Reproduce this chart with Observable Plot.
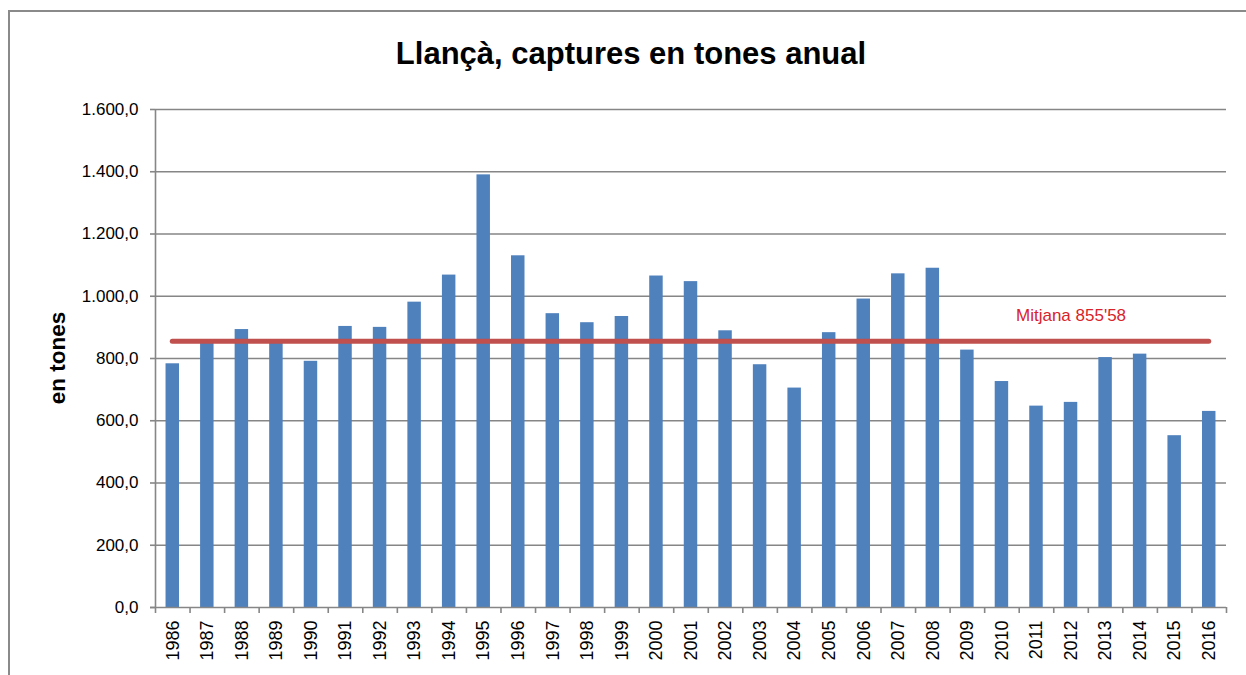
<!DOCTYPE html>
<html>
<head>
<meta charset="utf-8">
<script src="https://cdn.jsdelivr.net/npm/d3@7"></script>
<script src="https://cdn.jsdelivr.net/npm/@observablehq/plot@0.6"></script>
<style>
  html, body { margin: 0; padding: 0; background: #fff; overflow: hidden; }
  #wrap { position: relative; width: 1246px; height: 675px; overflow: hidden; font-family: "Liberation Sans", Arial, sans-serif; }
  #frame { position: absolute; left: 8px; top: 10px; width: 1400px; height: 800px; border: 2px solid #8a8a8a; box-sizing: border-box; }
  #title { position: absolute; left: 631px; top: 38px; transform: translateX(-50%); font-size: 31px; font-weight: bold; line-height: 1; white-space: nowrap; color: #000; }
  #ylabel { position: absolute; left: 58px; top: 358px; transform: translate(-50%, -50%) rotate(-90deg); font-size: 22.5px; font-weight: bold; line-height: 1; white-space: nowrap; color: #000; }
  #chart { position: absolute; left: 0; top: 0; }
</style>
</head>
<body>
<div id="wrap">
  <div id="frame"></div>
  <div id="chart"></div>
  <div id="title">Llançà, captures en tones anual</div>
  <div id="ylabel">en tones</div>
</div>
<script>
const years = [1986, 1987, 1988, 1989, 1990, 1991, 1992, 1993, 1994, 1995, 1996, 1997, 1998, 1999, 2000, 2001, 2002, 2003, 2004, 2005, 2006, 2007, 2008, 2009, 2010, 2011, 2012, 2013, 2014, 2015, 2016];
const captures = [783, 853, 893, 850, 791, 903, 900, 981, 1068, 1390, 1130, 944, 915, 935, 1065, 1047, 889, 780, 705, 883, 991, 1072, 1090, 827, 726, 647, 659, 803, 814, 552, 630];
const yTicks = [0, 200, 400, 600, 800, 1000, 1200, 1400, 1600];
const mitjana = 855.58;
const mitjanaLabel = "Mitjana 855'58";
const mitjanaLabelYear = 2012;

const data = years.map((y, i) => ({ year: y, value: captures[i] }));
const bounds = years.map(y => y - 0.5).concat([years[years.length - 1] + 0.5]);
const locale = d3.formatLocale({ decimal: ",", thousands: ".", grouping: [3], currency: ["", " €"] });
const fmt = locale.format(",.1f");
const grey = "#868686";

const chart = Plot.plot({
  width: 1246,
  height: 675,
  marginLeft: 155,
  marginRight: 20,
  marginTop: 109,
  marginBottom: 68,
  x: { type: "linear", domain: [years[0] - 0.5, years[years.length - 1] + 0.5] },
  y: { domain: [0, 1600] },
  style: { fontFamily: "'Liberation Sans', Arial, sans-serif", fontSize: "17px", color: "#000", background: "transparent" },
  marks: [
    Plot.gridY(yTicks.filter(v => v > 0), { stroke: grey, strokeOpacity: 1, strokeWidth: 1.6 }),
    Plot.rectY(data, { x1: d => d.year - 0.195, x2: d => d.year + 0.195, y: "value", fill: "#4f81bd" }),
    Plot.ruleX([years[0] - 0.5], { stroke: grey, strokeWidth: 1.6 }),
    Plot.ruleY([0], { stroke: grey, strokeWidth: 1.6, insetLeft: -5 }),
    Plot.axisY(yTicks, { tickSize: 5, tickPadding: 12, tickFormat: fmt, stroke: grey, strokeWidth: 1.6, fontSize: 17, label: null }),
    Plot.axisX(bounds, { tickSize: 6, tickFormat: () => "", stroke: grey, strokeWidth: 1.6, label: null }),
    Plot.axisX(years, { tickSize: 0, tickPadding: 13, tickRotate: -90, tickFormat: d => String(d), fontSize: 18, label: null }),
    Plot.ruleY([mitjana], { x1: () => years[0], x2: () => years[years.length - 1], stroke: "#c0504d", strokeWidth: 5, strokeLinecap: "round" }),
    Plot.text([mitjanaLabel], { x: () => mitjanaLabelYear, y: () => mitjana, text: d => d, dy: -26, fill: "#d9232a", fontSize: 17 })
  ]
});
document.getElementById("chart").appendChild(chart);
</script>
</body>
</html>
